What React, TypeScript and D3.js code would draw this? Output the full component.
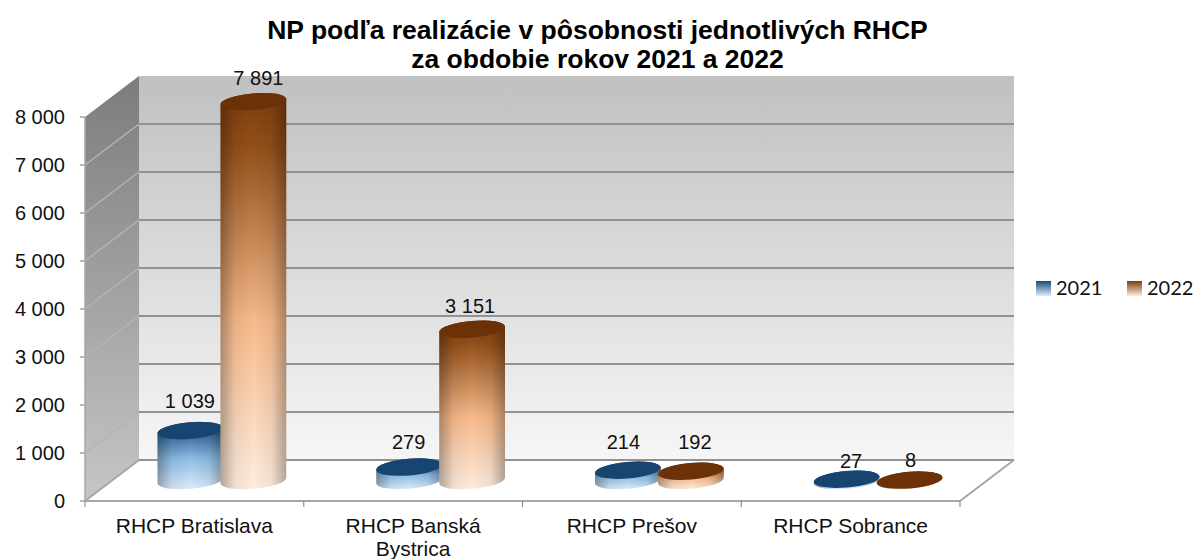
import React from "react";
import * as d3 from "d3";

const title = ["NP podľa realizácie v pôsobnosti jednotlivých RHCP", "za obdobie rokov 2021 a 2022"];
const categories = ["RHCP Bratislava", "RHCP Banská Bystrica", "RHCP Prešov", "RHCP Sobrance"];
const categoryLines = [["RHCP Bratislava"], ["RHCP Banská", "Bystrica"], ["RHCP Prešov"], ["RHCP Sobrance"]];
const seriesNames = ["2021", "2022"];
const values2021 = [1039, 279, 214, 27];
const values2022 = [7891, 3151, 192, 8];
const yTicks = [0, 1000, 2000, 3000, 4000, 5000, 6000, 7000, 8000];

// layout
const W = 1197, H = 559;
const front = { left: 85, right: 960, bottom: 501, top: 117 };
const depth = { dx: 54, dy: 41 };
const RX = 33, RY = 8.3, TILT = 5;
const rad = (TILT * Math.PI) / 180;
const labelNudge: [number, number][][] = [
  [[0, -30], [5, -24]],
  [[0, -25], [-2, -23]],
  [[-4, -28], [4, -29]],
  [[5, -18], [1, -20]],
];

const locale = d3.formatLocale({ decimal: ",", thousands: " ", grouping: [3], currency: ["", " €"] });
const fmt = locale.format(",d");

const x = d3.scaleBand<string>().domain(categories).range([front.left, front.right]);
const y = d3.scaleLinear().domain([0, 8000]).range([front.bottom, front.top]);

function cylinderPath(cx: number, top: number, bottom: number) {
  const ax = RX * Math.cos(rad), ay = RX * Math.sin(rad);
  const p = d3.path();
  p.moveTo(cx - ax, top + ay);
  p.lineTo(cx - ax, bottom + ay);
  const arc = `A${RX},${RY} ${-TILT} 0 0 ${cx + ax},${bottom - ay}`;
  const arc2 = `A${RX},${RY} ${-TILT} 0 0 ${cx - ax},${top + ay}`;
  return `${p.toString()}${arc}L${cx + ax},${top - ay}${arc2}Z`;
}

const stops = [
  { id: "a", top: "#17456f", body: [["0", "#1a4a78"], ["0.14", "#2a5f92"], ["0.55", "#8fbde6"], ["1", "#dcecfb"]] },
  { id: "b", top: "#6c3106", body: [["0", "#7d3c0c"], ["0.14", "#93501a"], ["0.58", "#f8bb8c"], ["1", "#feeddf"]] },
];

function Cylinder({ cx, value, s }: { cx: number; value: number; s: number }) {
  const base = y(0) - depth.dy / 2;
  const top = y(value) - depth.dy / 2;
  const c = stops[s];
  return (
    <g>
      <path d={cylinderPath(cx, top, base)} fill={`url(#body-${c.id})`} />
      <path d={cylinderPath(cx, top, base)} fill="url(#edge)" />
      <ellipse cx={cx} cy={top} rx={RX} ry={RY} fill={c.top} transform={`rotate(${-TILT} ${cx} ${top})`} />
    </g>
  );
}

export default function App() {
  const b = { x0: front.left + depth.dx, x1: front.right + depth.dx, y0: front.bottom - depth.dy, y1: front.top - depth.dy };
  const sans = "'Liberation Sans', Arial, sans-serif";
  return (
    <svg width={W} height={H} viewBox={`0 0 ${W} ${H}`} style={{ position: "absolute", left: 0, top: 0, display: "block", background: "#fff" }}>
      <defs>
        <linearGradient id="wall" x1="0" y1="0" x2="0" y2="1">
          <stop offset="0" stopColor="#c0c0c0" />
          <stop offset="1" stopColor="#f6f6f6" />
        </linearGradient>
        <linearGradient id="side" x1="0" y1="0" x2="0" y2="1">
          <stop offset="0" stopColor="#7c7c7c" />
          <stop offset="1" stopColor="#c6c6c6" />
        </linearGradient>
        <linearGradient id="edge" x1="0" y1="0" x2="1" y2="0">
          <stop offset="0" stopColor="#000" stopOpacity="0.3" />
          <stop offset="0.22" stopColor="#000" stopOpacity="0.06" />
          <stop offset="0.5" stopColor="#000" stopOpacity="0" />
          <stop offset="0.78" stopColor="#000" stopOpacity="0.06" />
          <stop offset="1" stopColor="#000" stopOpacity="0.3" />
        </linearGradient>
        {stops.map((c) => (
          <linearGradient key={c.id} id={`body-${c.id}`} x1="0" y1="0" x2="0" y2="1">
            {c.body.map(([o, col]) => <stop key={o} offset={o} stopColor={col} />)}
          </linearGradient>
        ))}
        {stops.map((c) => (
          <linearGradient key={c.id} id={`leg-${c.id}`} x1="0" y1="0" x2="0" y2="1">
            <stop offset="0" stopColor={c.body[0][1]} />
            <stop offset="1" stopColor={c.body[3][1]} />
          </linearGradient>
        ))}
      </defs>

      {/* back wall, side wall, floor */}
      <rect x={b.x0} y={b.y1} width={b.x1 - b.x0} height={b.y0 - b.y1} fill="url(#wall)" />
      <polygon points={`${front.left},${front.top} ${b.x0},${b.y1} ${b.x0},${b.y0} ${front.left},${front.bottom}`} fill="url(#side)" />
      <polygon points={`${b.x0},${b.y0} ${b.x1},${b.y0} ${front.right},${front.bottom} ${front.left},${front.bottom}`} fill="#fff" />

      {/* grid */}
      {yTicks.map((t) => {
        const yy = y(t);
        const yb = yy - depth.dy;
        return (
          <g key={t}>
            {t > 0 && t < 8000 && <line x1={front.left} y1={yy} x2={b.x0} y2={yb} stroke="#b4b4b4" strokeWidth={1.5} />}
            {t > 0 && t < 8000 && <line x1={b.x0} y1={yb} x2={b.x1} y2={yb} stroke="#929292" strokeWidth={2} />}
            <line x1={front.left - 5} y1={yy} x2={front.left} y2={yy} stroke="#8c8c8c" strokeWidth={1.2} />
            <text x={65} y={yy + 7} textAnchor="end" fontFamily={sans} fontSize={20} fill="#111">{fmt(t)}</text>
          </g>
        );
      })}
      <line x1={b.x0} y1={b.y0} x2={b.x1} y2={b.y0} stroke="#929292" strokeWidth={2} />
      <line x1={b.x0} y1={b.y0} x2={front.left} y2={front.bottom} stroke="#a6a6a6" strokeWidth={2} />
      <line x1={b.x1} y1={b.y0} x2={front.right} y2={front.bottom} stroke="#a6a6a6" strokeWidth={2} />
      <line x1={front.left} y1={front.top} x2={front.left} y2={front.bottom} stroke="#a6a6a6" strokeWidth={1.5} />
      <line x1={front.left} y1={front.bottom} x2={front.right} y2={front.bottom} stroke="#a6a6a6" strokeWidth={2} />
      {[...categories.map((c) => x(c)!), front.right].map((t) => (
        <line key={t} x1={t} y1={front.bottom} x2={t} y2={front.bottom + 6} stroke="#8c8c8c" strokeWidth={1.2} />
      ))}

      {/* cylinders */}
      {categories.map((c, i) => {
        const mid = x(c)! + x.bandwidth() / 2 + depth.dx / 2;
        return (
          <g key={c}>
            <Cylinder cx={mid - 31} value={values2021[i]} s={0} />
            <Cylinder cx={mid + 32} value={values2022[i]} s={1} />
          </g>
        );
      })}

      {/* value labels */}
      {categories.map((c, i) => {
        const mid = x(c)! + x.bandwidth() / 2 + depth.dx / 2;
        return [values2021[i], values2022[i]].map((v, s) => (
          <text
            key={s}
            x={mid + (s === 0 ? -31.5 : 32) + labelNudge[i][s][0]}
            y={y(v) - depth.dy / 2 + labelNudge[i][s][1] + 7}
            textAnchor="middle"
            fontFamily={sans}
            fontSize={20}
            fill="#111"
          >
            {fmt(v)}
          </text>
        ));
      })}

      {/* category labels */}
      {categories.map((c, i) => (
        <text key={c} x={x(c)! + x.bandwidth() / 2} y={533} textAnchor="middle" fontFamily={sans} fontSize={21} fill="#111">
          {categoryLines[i].map((l, j) => (
            <tspan key={l} x={x(c)! + x.bandwidth() / 2} dy={j === 0 ? 0 : 23}>{l}</tspan>
          ))}
        </text>
      ))}

      {/* title */}
      {title.map((t, i) => (
        <text key={t} x={597.5} y={39 + i * 29} textAnchor="middle" fontFamily={sans} fontWeight="bold" fontSize={26.5} fill="#000">{t}</text>
      ))}

      {/* legend */}
      {seriesNames.map((n, i) => (
        <g key={n} transform={`translate(${1036 + i * 91},281)`}>
          <rect width={15} height={15} fill={`url(#leg-${stops[i].id})`} />
          <text x={20} y={14} fontFamily="Lato, 'Open Sans', sans-serif" fontSize={20} fill="#111">{n}</text>
        </g>
      ))}
    </svg>
  );
}
